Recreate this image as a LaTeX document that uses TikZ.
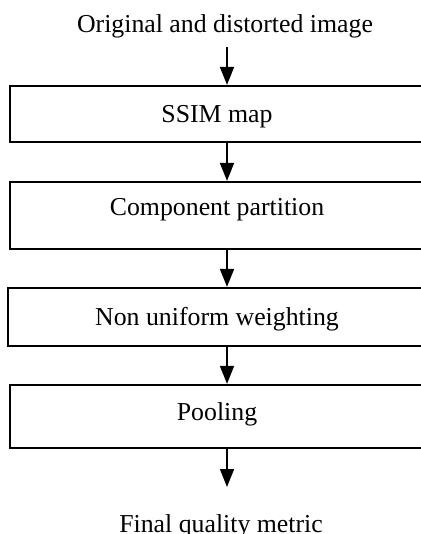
\documentclass[tikz,border=0pt]{standalone}
\usepackage{fontspec}
\setmainfont{Liberation Serif}
\usetikzlibrary{arrows.meta}
\begin{document}
\begin{tikzpicture}[x=0.5pt,y=-0.5pt,
  txt/.style={inner sep=0pt, anchor=base, font=\fontsize{12.9}{15}\selectfont},
  box/.style={txt, draw, line width=1.1pt, minimum width=207pt},
  arr/.style={line width=0.75pt, -{Triangle[length=9pt,width=7pt]}}]
\useasboundingbox (0,0) rectangle (420,534);
\coordinate (ax) at (227,0);
\node[txt] (t) at (225,33) {Original and distorted image};
\node[box, text height=18.5pt, text depth=9.5pt] (b1) at (217,123) {SSIM map};
\node[box, text height=16.5pt, text depth=17pt] (b2) at (217,215) {Component partition};
\node[box, minimum width=209pt, text height=18.5pt, text depth=10.5pt] (b3) at (217,325) {Non uniform weighting};
\node[box, text height=17.5pt, text depth=14pt] (b4) at (217,420) {Pooling};
\node[txt] (f) at (221,532) {Final quality metric};
\draw[arr] ([yshift=-7pt]t.base -| ax) -- (b1.north -| ax);
\draw[arr] (b1.south -| ax) -- (b2.north -| ax);
\draw[arr] (b2.south -| ax) -- (b3.north -| ax);
\draw[arr] (b3.south -| ax) -- (b4.north -| ax);
\draw[arr] (b4.south -| ax) -- ([yshift=22.5pt]f.base -| ax);
\end{tikzpicture}
\end{document}
